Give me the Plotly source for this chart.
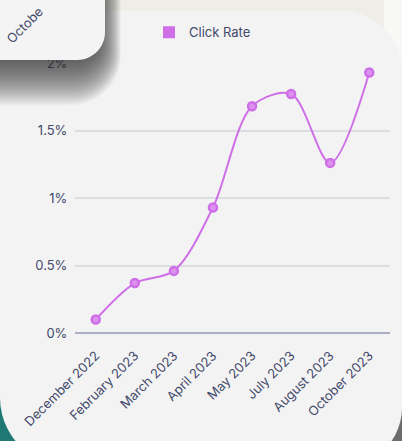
import numpy as np
import plotly.graph_objects as go

# ---- data ----
months = ["December 2022", "February 2023", "March 2023", "April 2023",
          "May 2023", "July 2023", "August 2023", "October 2023"]
click_rate = [0.10, 0.37, 0.46, 0.93, 1.68, 1.77, 1.26, 1.93]
y_tick_vals = [0, 0.5, 1, 1.5, 2]
y_tick_text = ["0%", "0.5%", "1%", "1.5%", "2%"]
series_name = "Click Rate"

# ---- geometry helpers (decoration only) ----
W, H = 402, 441
L, R, T, B = 75, 12, 63, 106
PW, PH = W - L - R, H - T - B


def px(x):
    return (x - L) / PW


def py(y):
    return (H - B - y) / PH


def rounded_path(x0, y0, x1, y1, r_tl=0, r_tr=0, r_br=0, r_bl=0, n=14):
    pts = []

    def arc(cx, cy, r, a0, a1):
        for a in np.linspace(a0, a1, n):
            pts.append((cx + r * np.cos(a), cy + r * np.sin(a)))
    if r_tl:
        arc(x0 + r_tl, y0 + r_tl, r_tl, np.pi, 1.5 * np.pi)
    else:
        pts.append((x0, y0))
    if r_tr:
        arc(x1 - r_tr, y0 + r_tr, r_tr, 1.5 * np.pi, 2 * np.pi)
    else:
        pts.append((x1, y0))
    if r_br:
        arc(x1 - r_br, y1 - r_br, r_br, 0, 0.5 * np.pi)
    else:
        pts.append((x1, y1))
    if r_bl:
        arc(x0 + r_bl, y1 - r_bl, r_bl, 0.5 * np.pi, np.pi)
    else:
        pts.append((x0, y1))
    return "M " + " L ".join(f"{px(a):.5f},{py(b):.5f}" for a, b in pts) + " Z"


def rect(x0, y0, x1, y1, color, layer="below"):
    return dict(type="rect", xref="paper", yref="paper",
                x0=px(x0), x1=px(x1), y0=py(y1), y1=py(y0),
                fillcolor=color, line=dict(width=0), layer=layer)


def path(p, color, layer="below"):
    return dict(type="path", xref="paper", yref="paper", path=p,
                fillcolor=color, line=dict(width=0), layer=layer)


shapes = []
# page background behind the card
shapes.append(rect(100, -20, 384, 40, "#eeede6"))
shapes.append(rect(-20, 360, 120, 470, "#1f7873"))
shapes.append(rect(300, 380, 420, 470, "#6c6c6c"))
# main card
shapes.append(path(rounded_path(0, 10, 402, 470, r_tr=62, r_br=60, r_bl=70), "#f3f3f3"))

# soft shadow of the overlapping card (above the plot)
for s in np.arange(-6, 38, 1.5):
    shapes.append(path(rounded_path(-40, -40, 102 + 0.5 * s, 68 + s, r_br=28 + 0.6 * max(s, 0)),
                       "rgba(40,40,40,0.04)", layer="above"))
# overlapping card
shapes.append(path(rounded_path(-40, -40, 105, 60, r_br=28), "#f4f4f4", layer="above"))

ink = "#434a6b"
purple = "#cf6fe8"

fig = go.Figure()
fig.add_trace(go.Scatter(
    x=months, y=click_rate, mode="lines+markers", name=series_name,
    showlegend=False,
    line=dict(color=purple, width=2, shape="spline", smoothing=0.9),
    marker=dict(size=8, color="#dc92ee", line=dict(color=purple, width=2.5)),
))
fig.add_trace(go.Scatter(
    x=[None], y=[None], mode="markers", name=series_name,
    marker=dict(symbol="square", size=12, color=purple),
))

fig.update_layout(
    width=W, height=H,
    margin=dict(l=L, r=R, t=T, b=B),
    paper_bgcolor="#f8f8f7",
    plot_bgcolor="rgba(0,0,0,0)",
    font=dict(family="Inter, Arial, sans-serif", size=13, color=ink),
    shapes=shapes,
    legend=dict(orientation="h", x=px(149), xanchor="left", y=py(17), yanchor="top",
                bgcolor="rgba(0,0,0,0)", font=dict(size=13, color=ink)),
    xaxis=dict(type="category", tickangle=-45, showgrid=False, showline=False,
               zeroline=False, ticks="outside", ticklen=9,
               tickcolor="rgba(0,0,0,0)", tickfont=dict(size=13, color=ink)),
    yaxis=dict(range=[0, 2], tickvals=y_tick_vals, ticktext=y_tick_text,
               showgrid=True, gridcolor="#dcdde3", gridwidth=1.5,
               zeroline=True, zerolinecolor="#a9aec3", zerolinewidth=1.5,
               showline=False, ticks="outside", ticklen=4,
               tickcolor="rgba(0,0,0,0)", tickfont=dict(size=13, color=ink)),
    annotations=[dict(text="Octobe", textangle=-45, showarrow=False,
                      xref="paper", yref="paper", x=px(0), y=py(0),
                      xanchor="left", yanchor="top",
                      font=dict(size=13, color=ink))],
)

fig.write_html("out.html", config={"displayModeBar": False},
               post_script="document.body.style.margin='0';")
